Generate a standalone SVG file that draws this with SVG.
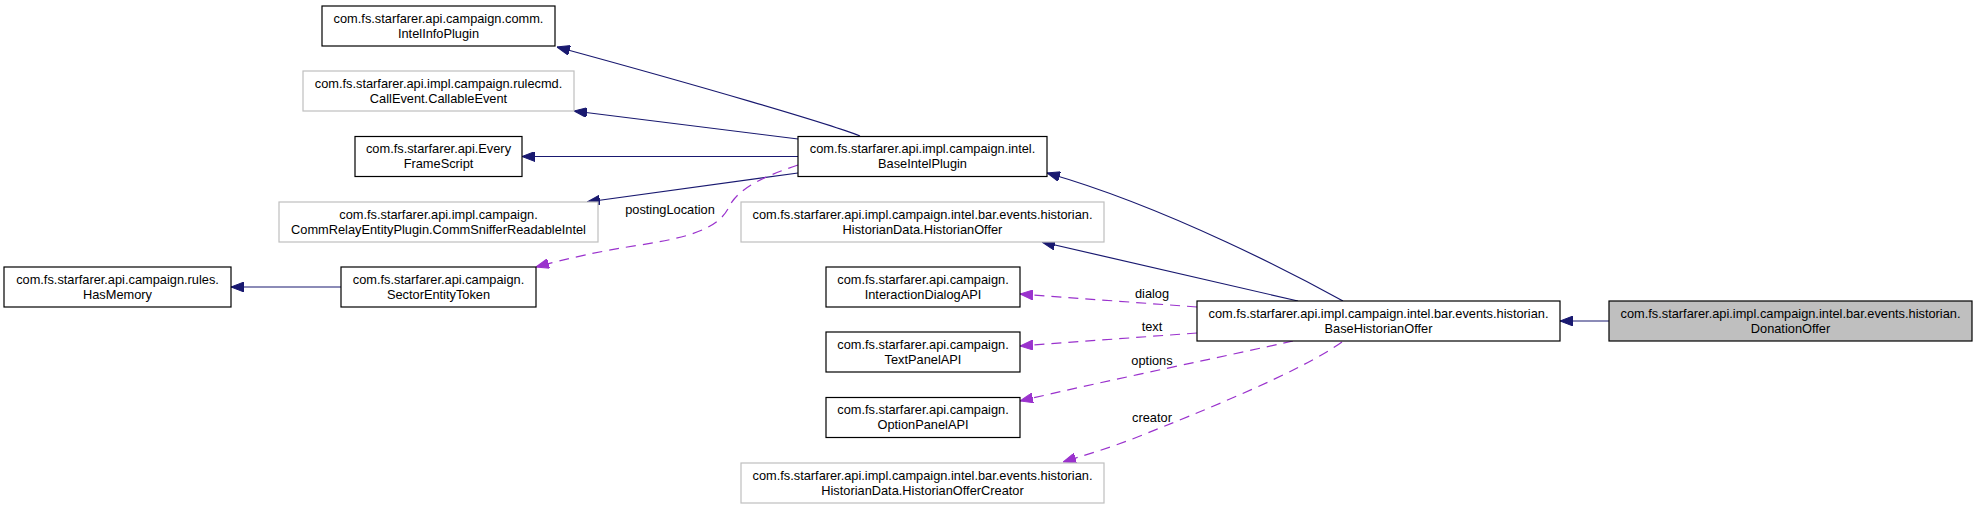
<svg xmlns="http://www.w3.org/2000/svg" width="1977" height="509" viewBox="0 0 1977 509">
<style>
  .node rect { fill: #ffffff; stroke: #000000; stroke-width: 1.2; }
  .node.ext rect { stroke: #bfbfbf; }
  .node.cur rect { fill: #bfbfbf; }
  text { font-family: "Liberation Sans", Arial, Helvetica, sans-serif; font-size: 12.8px; fill: #000000; text-anchor: middle; }
  .inh { fill: none; stroke: #191970; stroke-width: 1.2; marker-end: url(#ah-inh); }
  .use { fill: none; stroke: #9a32cd; stroke-width: 1.2; stroke-dasharray: 10,7; marker-end: url(#ah-use); }
</style>
<defs>
  <marker id="ah-inh" markerUnits="userSpaceOnUse" viewBox="0 0 13 10" markerWidth="13" markerHeight="10" refX="13" refY="5" orient="auto">
    <path d="M0,0 L13,5 L0,10 z" fill="#191970" stroke="#191970" stroke-width="1"/>
  </marker>
  <marker id="ah-use" markerUnits="userSpaceOnUse" viewBox="0 0 13 10" markerWidth="13" markerHeight="10" refX="13" refY="5" orient="auto">
    <path d="M0,0 L13,5 L0,10 z" fill="#9a32cd" stroke="#9a32cd" stroke-width="1"/>
  </marker>
</defs>
<rect x="0" y="0" width="1977" height="509" fill="#ffffff"/>

<g id="connectors">
  <path class="inh" d="M860,136 C 830,124 700,86 557,47"/>
  <path class="inh" d="M798,139 L574,111"/>
  <path class="inh" d="M798,156.5 L522,156.5"/>
  <path class="inh" d="M798,173 L587,202"/>
  <path class="use" d="M798,165 C 765,176 738,188 729,207 C 718,230 685,238 640,245 C 600,251 565,259 536,267"/>
  <text x="670" y="214">postingLocation</text>
  <path class="inh" d="M341,287 L231,287"/>
  <path class="inh" d="M1343,301 C 1305,280 1170,208 1047,173"/>
  <path class="inh" d="M1298,301 L1042,242"/>
  <path class="use" d="M1197,307 L1020,294"/>
  <text x="1152" y="298">dialog</text>
  <path class="use" d="M1197,333 L1020,346"/>
  <text x="1152" y="331">text</text>
  <path class="use" d="M1293,341 C 1240,353 1100,382 1020,401"/>
  <text x="1152" y="365">options</text>
  <path class="use" d="M1342,342 C 1300,372 1200,412 1140,436 C 1110,448 1085,455 1063,462"/>
  <text x="1152" y="422">creator</text>
  <path class="inh" d="M1609,321 L1560,321"/>
</g>

<g id="IntelInfoPlugin" class="node">
  <rect x="322" y="6" width="233" height="40"/>
  <text x="438.5" y="22.5">com.fs.starfarer.api.campaign.comm.</text>
  <text x="438.5" y="37.5">IntelInfoPlugin</text>
</g>
<g id="CallableEvent" class="node ext">
  <rect x="303" y="71" width="271" height="40"/>
  <text x="438.5" y="87.5">com.fs.starfarer.api.impl.campaign.rulecmd.</text>
  <text x="438.5" y="102.5">CallEvent.CallableEvent</text>
</g>
<g id="EveryFrameScript" class="node">
  <rect x="355" y="136.5" width="167" height="40"/>
  <text x="438.5" y="153">com.fs.starfarer.api.Every</text>
  <text x="438.5" y="168">FrameScript</text>
</g>
<g id="CommSnifferReadableIntel" class="node ext">
  <rect x="279" y="202" width="319" height="40"/>
  <text x="438.5" y="218.5">com.fs.starfarer.api.impl.campaign.</text>
  <text x="438.5" y="233.5">CommRelayEntityPlugin.CommSnifferReadableIntel</text>
</g>
<g id="SectorEntityToken" class="node">
  <rect x="341" y="267" width="195" height="40"/>
  <text x="438.5" y="283.5">com.fs.starfarer.api.campaign.</text>
  <text x="438.5" y="298.5">SectorEntityToken</text>
</g>
<g id="HasMemory" class="node">
  <rect x="4" y="267" width="227" height="40"/>
  <text x="117.5" y="283.5">com.fs.starfarer.api.campaign.rules.</text>
  <text x="117.5" y="298.5">HasMemory</text>
</g>
<g id="BaseIntelPlugin" class="node">
  <rect x="798" y="136.5" width="249" height="40"/>
  <text x="922.5" y="153">com.fs.starfarer.api.impl.campaign.intel.</text>
  <text x="922.5" y="168">BaseIntelPlugin</text>
</g>
<g id="HistorianOffer" class="node ext">
  <rect x="741" y="202" width="363" height="40"/>
  <text x="922.5" y="218.5">com.fs.starfarer.api.impl.campaign.intel.bar.events.historian.</text>
  <text x="922.5" y="233.5">HistorianData.HistorianOffer</text>
</g>
<g id="InteractionDialogAPI" class="node">
  <rect x="826" y="267" width="194" height="40"/>
  <text x="923" y="283.5">com.fs.starfarer.api.campaign.</text>
  <text x="923" y="298.5">InteractionDialogAPI</text>
</g>
<g id="TextPanelAPI" class="node">
  <rect x="826" y="332" width="194" height="40"/>
  <text x="923" y="348.5">com.fs.starfarer.api.campaign.</text>
  <text x="923" y="363.5">TextPanelAPI</text>
</g>
<g id="OptionPanelAPI" class="node">
  <rect x="826" y="397.5" width="194" height="40"/>
  <text x="923" y="414">com.fs.starfarer.api.campaign.</text>
  <text x="923" y="429">OptionPanelAPI</text>
</g>
<g id="HistorianOfferCreator" class="node ext">
  <rect x="741" y="463" width="363" height="40"/>
  <text x="922.5" y="479.5">com.fs.starfarer.api.impl.campaign.intel.bar.events.historian.</text>
  <text x="922.5" y="494.5">HistorianData.HistorianOfferCreator</text>
</g>
<g id="BaseHistorianOffer" class="node">
  <rect x="1197" y="301" width="363" height="40"/>
  <text x="1378.5" y="317.5">com.fs.starfarer.api.impl.campaign.intel.bar.events.historian.</text>
  <text x="1378.5" y="332.5">BaseHistorianOffer</text>
</g>
<g id="DonationOffer" class="node cur">
  <rect x="1609" y="301" width="363" height="40"/>
  <text x="1790.5" y="317.5">com.fs.starfarer.api.impl.campaign.intel.bar.events.historian.</text>
  <text x="1790.5" y="332.5">DonationOffer</text>
</g>
</svg>
